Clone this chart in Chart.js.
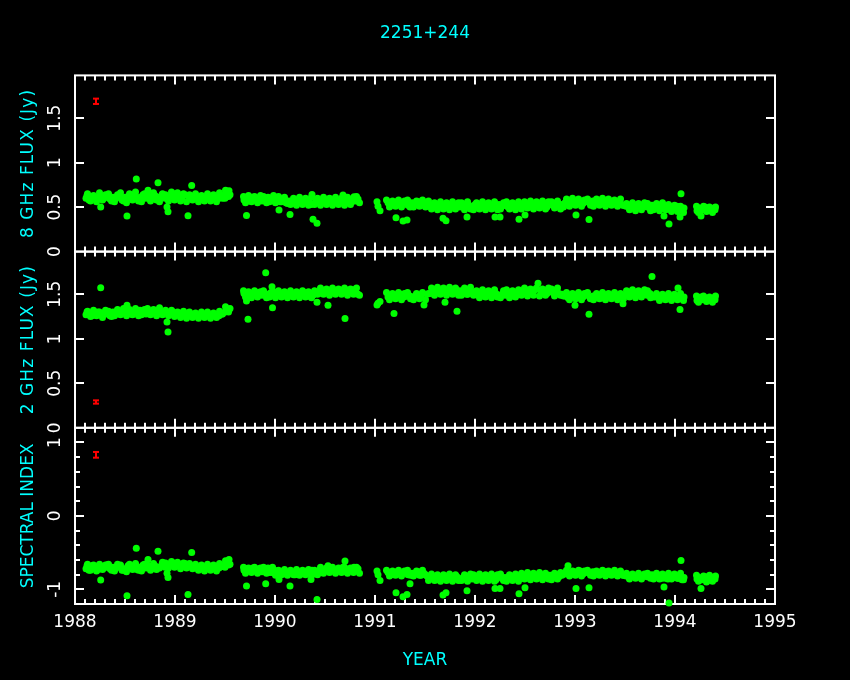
<!DOCTYPE html>
<html>
<head>
<meta charset="utf-8">
<title>2251+244</title>
<script src="https://cdn.jsdelivr.net/npm/chart.js@4.4.1/dist/chart.umd.min.js"></script>
<style>
  html, body { margin: 0; padding: 0; background: #000; }
  #wrap { width: 850px; height: 680px; position: relative; }
</style>
</head>
<body>
<div id="wrap"><canvas id="chart-flux"></canvas></div>
<script>
// observing epochs (decimal year); second half of the list holds the
// interleaved observations from the other sessions
var years = [
    1988.11, 1988.12, 1988.14, 1988.17, 1988.20, 1988.23, 1988.257, 1988.26, 1988.29, 1988.32,
    1988.35, 1988.38, 1988.41, 1988.44, 1988.47, 1988.50, 1988.52, 1988.53, 1988.56, 1988.59,
    1988.613, 1988.62, 1988.65, 1988.68, 1988.71, 1988.73, 1988.74, 1988.77, 1988.80, 1988.83,
    1988.84, 1988.87, 1988.90, 1988.92, 1988.93, 1988.95, 1988.98, 1989.01, 1989.04, 1989.07,
    1989.10, 1989.13, 1989.14, 1989.167, 1989.17, 1989.20, 1989.23, 1989.26, 1989.29, 1989.32,
    1989.35, 1989.38, 1989.41, 1989.44, 1989.47, 1989.50, 1989.52, 1989.54, 1989.55,
    1989.69, 1989.715, 1989.72, 1989.73, 1989.75, 1989.78, 1989.81, 1989.84, 1989.87, 1989.90,
    1989.907, 1989.93, 1989.96, 1989.97, 1989.975, 1989.99, 1990.02, 1990.04, 1990.05, 1990.08,
    1990.11, 1990.14, 1990.15, 1990.17, 1990.20, 1990.23, 1990.26, 1990.29, 1990.32, 1990.35,
    1990.36, 1990.37, 1990.38, 1990.41, 1990.42, 1990.44, 1990.47, 1990.50, 1990.53, 1990.55,
    1990.58, 1990.61, 1990.64, 1990.68, 1990.70, 1990.71, 1990.74, 1990.77, 1990.79, 1990.81,
    1990.83, 1991.02, 1991.03, 1991.05,
    1991.13, 1991.16, 1991.19, 1991.21, 1991.22, 1991.25, 1991.28, 1991.29, 1991.32, 1991.33,
    1991.35, 1991.37, 1991.40, 1991.43, 1991.46, 1991.49, 1991.52, 1991.55, 1991.58, 1991.61,
    1991.64, 1991.67, 1991.68, 1991.70, 1991.71, 1991.73, 1991.76, 1991.79, 1991.82, 1991.85,
    1991.88, 1991.91, 1991.92, 1991.94, 1991.97, 1992.00, 1992.03, 1992.06, 1992.09, 1992.12,
    1992.15, 1992.18, 1992.20, 1992.21, 1992.24, 1992.25, 1992.27, 1992.30, 1992.33, 1992.36,
    1992.39, 1992.42, 1992.44, 1992.45, 1992.48, 1992.50, 1992.51, 1992.54, 1992.57, 1992.60,
    1992.63, 1992.66, 1992.69, 1992.72, 1992.75, 1992.78, 1992.81, 1992.84, 1992.87, 1992.90,
    1992.93, 1992.96, 1992.99, 1993.00, 1993.01, 1993.02, 1993.05, 1993.08, 1993.11, 1993.14,
    1993.15, 1993.18, 1993.21, 1993.24, 1993.27, 1993.30, 1993.33, 1993.36, 1993.39, 1993.42,
    1993.45, 1993.48, 1993.51, 1993.54, 1993.57, 1993.60, 1993.63, 1993.66, 1993.69, 1993.72,
    1993.75, 1993.77, 1993.78, 1993.81, 1993.84, 1993.87, 1993.89, 1993.90, 1993.93, 1993.94,
    1993.96, 1993.99, 1994.02, 1994.03, 1994.05, 1994.06, 1994.07, 1994.09,
    1994.22, 1994.24, 1994.26, 1994.27, 1994.30, 1994.33, 1994.36, 1994.39, 1994.40,
    // interleaved sessions
    1988.125, 1988.155, 1988.185, 1988.215, 1988.245, 1988.275, 1988.305, 1988.335, 1988.365, 1988.395,
    1988.425, 1988.455, 1988.485, 1988.515, 1988.545, 1988.575, 1988.605, 1988.635, 1988.665, 1988.695,
    1988.725, 1988.755, 1988.785, 1988.815, 1988.845, 1988.875, 1988.905, 1988.935, 1988.965, 1988.995,
    1989.025, 1989.055, 1989.085, 1989.115, 1989.145, 1989.175, 1989.205, 1989.235, 1989.265, 1989.295,
    1989.325, 1989.355, 1989.385, 1989.415, 1989.445, 1989.475, 1989.505, 1989.535,
    1989.685, 1989.705, 1989.735, 1989.765, 1989.795, 1989.825, 1989.855, 1989.885, 1989.915, 1989.945,
    1989.985, 1990.005, 1990.035, 1990.065, 1990.095, 1990.125, 1990.155, 1990.185, 1990.215, 1990.245,
    1990.275, 1990.305, 1990.335, 1990.365, 1990.395, 1990.425, 1990.455, 1990.485, 1990.515, 1990.545,
    1990.575, 1990.605, 1990.635, 1990.665, 1990.695, 1990.725, 1990.755, 1990.785, 1990.815, 1990.845,
    1991.115, 1991.145, 1991.175, 1991.205, 1991.235, 1991.265, 1991.295, 1991.325, 1991.355, 1991.385,
    1991.415, 1991.445, 1991.475, 1991.505, 1991.535, 1991.565, 1991.595, 1991.625, 1991.655, 1991.685,
    1991.715, 1991.745, 1991.775, 1991.805, 1991.835, 1991.865, 1991.895, 1991.925, 1991.955, 1991.985,
    1992.015, 1992.045, 1992.075, 1992.105, 1992.135, 1992.165, 1992.195, 1992.225, 1992.255, 1992.285,
    1992.315, 1992.345, 1992.375, 1992.405, 1992.435, 1992.465, 1992.495, 1992.525, 1992.555, 1992.585,
    1992.615, 1992.645, 1992.675, 1992.705, 1992.735, 1992.765, 1992.795, 1992.825, 1992.855, 1992.885,
    1992.915, 1992.945, 1992.975, 1993.005, 1993.035, 1993.065, 1993.095, 1993.125, 1993.155, 1993.185,
    1993.215, 1993.245, 1993.275, 1993.305, 1993.335, 1993.365, 1993.395, 1993.425, 1993.455, 1993.485,
    1993.515, 1993.545, 1993.575, 1993.605, 1993.635, 1993.665, 1993.695, 1993.725, 1993.755, 1993.785,
    1993.815, 1993.845, 1993.875, 1993.905, 1993.935, 1993.965, 1993.995, 1994.025, 1994.055, 1994.085,
    1994.215, 1994.235, 1994.285, 1994.315, 1994.345, 1994.375, 1994.405
];

// 8 GHz flux density (Jy)
var flux8 = [
    0.60, 0.63, 0.58, 0.62, 0.61, 0.59, 0.50, 0.62, 0.60, 0.63,
    0.59, 0.61, 0.60, 0.62, 0.58, 0.61, 0.40, 0.62, 0.60, 0.63,
    0.817, 0.59, 0.61, 0.64, 0.60, 0.69, 0.62, 0.59, 0.63, 0.773,
    0.61, 0.64, 0.60, 0.50, 0.448, 0.62, 0.65, 0.61, 0.63, 0.60,
    0.64, 0.403, 0.62, 0.743, 0.60, 0.63, 0.59, 0.61, 0.58, 0.60,
    0.62, 0.59, 0.61, 0.60, 0.63, 0.60, 0.66, 0.683, 0.64,
    0.58, 0.407, 0.60, 0.57, 0.59, 0.61, 0.58, 0.60, 0.57, 0.59,
    0.58, 0.61, 0.58, 0.59, 0.60, 0.57, 0.58, 0.467, 0.56, 0.59,
    0.55, 0.57, 0.418, 0.56, 0.54, 0.57, 0.55, 0.56, 0.58, 0.55,
    0.53, 0.643, 0.363, 0.56, 0.318, 0.57, 0.55, 0.58, 0.56, 0.57,
    0.55, 0.58, 0.56, 0.635, 0.57, 0.55, 0.58, 0.56, 0.616, 0.57,
    0.59, 0.56, 0.51, 0.46,
    0.55, 0.52, 0.54, 0.38, 0.56, 0.53, 0.344, 0.55, 0.355, 0.52,
    0.50, 0.55, 0.53, 0.56, 0.52, 0.54, 0.53, 0.51, 0.52, 0.50,
    0.53, 0.51, 0.374, 0.52, 0.347, 0.50, 0.53, 0.51, 0.52, 0.50,
    0.53, 0.51, 0.39, 0.52, 0.50, 0.53, 0.51, 0.52, 0.50, 0.53,
    0.51, 0.52, 0.39, 0.50, 0.53, 0.39, 0.51, 0.52, 0.50, 0.53,
    0.51, 0.52, 0.363, 0.53, 0.51, 0.41, 0.52, 0.50, 0.53, 0.52,
    0.51, 0.53, 0.52, 0.50, 0.53, 0.52, 0.54, 0.51, 0.53, 0.55,
    0.55, 0.54, 0.56, 0.53, 0.41, 0.55, 0.57, 0.54, 0.56, 0.36,
    0.55, 0.57, 0.54, 0.56, 0.55, 0.57, 0.54, 0.56, 0.55, 0.53,
    0.55, 0.52, 0.51, 0.49, 0.52, 0.50, 0.51, 0.49, 0.52, 0.50,
    0.51, 0.52, 0.49, 0.50, 0.52, 0.49, 0.40, 0.51, 0.48, 0.31,
    0.50, 0.49, 0.51, 0.48, 0.39, 0.65, 0.47, 0.49,
    0.46, 0.49, 0.40, 0.47, 0.50, 0.48, 0.46, 0.49, 0.47,
    // interleaved sessions
    0.65, 0.57, 0.63, 0.56, 0.66, 0.58, 0.64, 0.65, 0.57, 0.56,
    0.64, 0.66, 0.57, 0.55, 0.65, 0.58, 0.67, 0.57, 0.56, 0.65,
    0.63, 0.57, 0.66, 0.58, 0.56, 0.65, 0.64, 0.57, 0.67, 0.58,
    0.66, 0.57, 0.65, 0.56, 0.64, 0.58, 0.65, 0.56, 0.63, 0.57,
    0.65, 0.57, 0.64, 0.56, 0.66, 0.60, 0.69, 0.62,
    0.62, 0.55, 0.63, 0.56, 0.62, 0.55, 0.63, 0.62, 0.55, 0.56,
    0.63, 0.55, 0.62, 0.56, 0.61, 0.54, 0.53, 0.60, 0.52, 0.61,
    0.53, 0.60, 0.52, 0.61, 0.53, 0.60, 0.52, 0.61, 0.53, 0.60,
    0.52, 0.61, 0.53, 0.60, 0.52, 0.61, 0.53, 0.60, 0.62, 0.55,
    0.58, 0.50, 0.57, 0.51, 0.58, 0.50, 0.57, 0.58, 0.51, 0.50,
    0.57, 0.51, 0.58, 0.50, 0.57, 0.48, 0.55, 0.47, 0.56, 0.48,
    0.55, 0.47, 0.56, 0.48, 0.55, 0.55, 0.47, 0.56, 0.48, 0.47,
    0.55, 0.48, 0.56, 0.47, 0.55, 0.48, 0.56, 0.47, 0.48, 0.55,
    0.56, 0.48, 0.55, 0.47, 0.56, 0.48, 0.56, 0.49, 0.57, 0.48,
    0.56, 0.49, 0.57, 0.48, 0.56, 0.56, 0.49, 0.57, 0.48, 0.50,
    0.59, 0.51, 0.60, 0.52, 0.59, 0.51, 0.58, 0.59, 0.52, 0.51,
    0.59, 0.52, 0.60, 0.51, 0.59, 0.52, 0.58, 0.51, 0.59, 0.52,
    0.54, 0.47, 0.55, 0.46, 0.54, 0.47, 0.55, 0.54, 0.46, 0.47,
    0.54, 0.46, 0.55, 0.47, 0.53, 0.45, 0.52, 0.45, 0.51, 0.44,
    0.51, 0.44, 0.51, 0.45, 0.50, 0.44, 0.50
];

// 2 GHz flux density (Jy)
var flux2 = [
    1.27, 1.30, 1.29, 1.26, 1.28, 1.30, 1.574, 1.27, 1.29, 1.28,
    1.26, 1.30, 1.28, 1.31, 1.29, 1.32, 1.377, 1.30, 1.28, 1.31,
    1.30, 1.29, 1.32, 1.30, 1.28, 1.30, 1.31, 1.29, 1.30, 1.28,
    1.32, 1.29, 1.31, 1.19, 1.076, 1.28, 1.30, 1.27, 1.29, 1.26,
    1.28, 1.27, 1.29, 1.27, 1.25, 1.28, 1.26, 1.27, 1.25, 1.28,
    1.26, 1.27, 1.25, 1.26, 1.28, 1.30, 1.32, 1.33, 1.34,
    1.51, 1.425, 1.52, 1.22, 1.49, 1.51, 1.50, 1.52, 1.49, 1.51,
    1.741, 1.50, 1.52, 1.585, 1.35, 1.49, 1.51, 1.50, 1.49, 1.51,
    1.48, 1.50, 1.49, 1.48, 1.50, 1.51, 1.49, 1.52, 1.50, 1.51,
    1.47, 1.50, 1.49, 1.52, 1.41, 1.53, 1.51, 1.54, 1.377, 1.52,
    1.54, 1.52, 1.55, 1.53, 1.228, 1.52, 1.54, 1.53, 1.55, 1.52,
    1.50, 1.38, 1.40, 1.42,
    1.47, 1.49, 1.284, 1.49, 1.48, 1.50, 1.48, 1.47, 1.48, 1.49,
    1.48, 1.46, 1.48, 1.47, 1.49, 1.38, 1.50, 1.51, 1.53, 1.55,
    1.52, 1.54, 1.52, 1.41, 1.52, 1.53, 1.55, 1.52, 1.31, 1.54,
    1.52, 1.53, 1.50, 1.51, 1.53, 1.50, 1.49, 1.51, 1.48, 1.50,
    1.52, 1.49, 1.49, 1.51, 1.48, 1.49, 1.50, 1.49, 1.51, 1.48,
    1.50, 1.51, 1.50, 1.52, 1.53, 1.51, 1.54, 1.52, 1.53, 1.55,
    1.625, 1.52, 1.54, 1.51, 1.53, 1.52, 1.54, 1.51, 1.50, 1.48,
    1.46, 1.47, 1.49, 1.377, 1.46, 1.46, 1.48, 1.47, 1.49, 1.277,
    1.46, 1.48, 1.47, 1.49, 1.46, 1.48, 1.50, 1.47, 1.49, 1.48,
    1.47, 1.395, 1.50, 1.52, 1.51, 1.49, 1.52, 1.50, 1.51, 1.49,
    1.51, 1.70, 1.48, 1.47, 1.46, 1.48, 1.47, 1.46, 1.47, 1.47,
    1.45, 1.48, 1.46, 1.57, 1.33, 1.47, 1.45, 1.47,
    1.43, 1.45, 1.47, 1.44, 1.46, 1.45, 1.43, 1.46, 1.44,
    // interleaved sessions
    1.31, 1.25, 1.32, 1.26, 1.30, 1.24, 1.32, 1.31, 1.25, 1.26,
    1.33, 1.27, 1.34, 1.26, 1.33, 1.27, 1.34, 1.26, 1.27, 1.33,
    1.34, 1.27, 1.33, 1.26, 1.35, 1.27, 1.32, 1.26, 1.32, 1.25,
    1.30, 1.24, 1.31, 1.23, 1.30, 1.24, 1.29, 1.23, 1.30, 1.24,
    1.30, 1.23, 1.29, 1.24, 1.31, 1.28, 1.36, 1.30,
    1.54, 1.47, 1.53, 1.46, 1.54, 1.47, 1.53, 1.54, 1.46, 1.47,
    1.53, 1.46, 1.54, 1.47, 1.53, 1.46, 1.54, 1.47, 1.53, 1.46,
    1.54, 1.47, 1.53, 1.46, 1.54, 1.50, 1.57, 1.50, 1.56, 1.49,
    1.57, 1.50, 1.56, 1.50, 1.57, 1.49, 1.56, 1.50, 1.57, 1.49,
    1.52, 1.44, 1.51, 1.45, 1.52, 1.44, 1.51, 1.52, 1.45, 1.44,
    1.51, 1.45, 1.52, 1.44, 1.51, 1.57, 1.49, 1.58, 1.50, 1.57,
    1.49, 1.58, 1.50, 1.57, 1.49, 1.49, 1.57, 1.50, 1.58, 1.49,
    1.54, 1.46, 1.55, 1.47, 1.54, 1.46, 1.55, 1.47, 1.46, 1.54,
    1.55, 1.46, 1.54, 1.47, 1.55, 1.49, 1.57, 1.48, 1.56, 1.49,
    1.57, 1.48, 1.56, 1.49, 1.57, 1.56, 1.48, 1.57, 1.49, 1.48,
    1.52, 1.44, 1.51, 1.45, 1.52, 1.44, 1.51, 1.52, 1.45, 1.44,
    1.51, 1.45, 1.52, 1.44, 1.51, 1.45, 1.52, 1.44, 1.51, 1.45,
    1.54, 1.47, 1.55, 1.46, 1.54, 1.47, 1.55, 1.54, 1.46, 1.47,
    1.51, 1.43, 1.50, 1.44, 1.51, 1.43, 1.50, 1.44, 1.51, 1.43,
    1.48, 1.41, 1.48, 1.42, 1.47, 1.41, 1.48
];

// spectral index between 2 and 8 GHz
var specIndex = [
    -0.72, -0.68, -0.74, -0.68, -0.70, -0.73, -0.874, -0.69, -0.71, -0.67,
    -0.72, -0.70, -0.71, -0.69, -0.74, -0.72, -1.086, -0.68, -0.71, -0.69,
    -0.44, -0.73, -0.70, -0.67, -0.71, -0.593, -0.69, -0.72, -0.68, -0.48,
    -0.70, -0.66, -0.70, -0.78, -0.84, -0.67, -0.64, -0.68, -0.66, -0.69,
    -0.65, -1.07, -0.67, -0.50, -0.70, -0.68, -0.72, -0.70, -0.73, -0.71,
    -0.69, -0.72, -0.70, -0.71, -0.68, -0.70, -0.64, -0.593, -0.66,
    -0.74, -0.955, -0.72, -0.75, -0.73, -0.71, -0.75, -0.72, -0.76, -0.73,
    -0.924, -0.71, -0.75, -0.77, -0.70, -0.76, -0.75, -0.865, -0.78, -0.76,
    -0.79, -0.77, -0.955, -0.78, -0.80, -0.76, -0.79, -0.77, -0.75, -0.78,
    -0.865, -0.74, -0.79, -0.76, -1.14, -0.75, -0.77, -0.74, -0.68, -0.75,
    -0.73, -0.76, -0.72, -0.70, -0.616, -0.76, -0.73, -0.75, -0.70, -0.74,
    -0.72, -0.75, -0.80, -0.88,
    -0.77, -0.80, -0.78, -1.046, -0.76, -0.79, -1.10, -0.77, -1.07, -0.80,
    -0.924, -0.78, -0.79, -0.76, -0.81, -0.78, -0.82, -0.83, -0.85, -0.87,
    -0.83, -0.86, -1.078, -0.84, -1.046, -0.86, -0.84, -0.85, -0.83, -0.87,
    -0.84, -0.86, -1.02, -0.83, -0.86, -0.83, -0.85, -0.84, -0.86, -0.82,
    -0.85, -0.84, -0.99, -0.87, -0.83, -0.99, -0.85, -0.84, -0.86, -0.83,
    -0.85, -0.84, -1.06, -0.82, -0.84, -0.98, -0.83, -0.85, -0.81, -0.83,
    -0.84, -0.81, -0.82, -0.84, -0.81, -0.83, -0.80, -0.83, -0.81, -0.79,
    -0.68, -0.78, -0.76, -0.80, -0.99, -0.77, -0.75, -0.79, -0.77, -0.98,
    -0.78, -0.76, -0.79, -0.77, -0.78, -0.76, -0.79, -0.77, -0.78, -0.80,
    -0.78, -0.81, -0.82, -0.84, -0.81, -0.83, -0.82, -0.84, -0.81, -0.83,
    -0.82, -0.80, -0.84, -0.83, -0.81, -0.85, -0.97, -0.82, -0.86, -1.187,
    -0.83, -0.84, -0.82, -0.85, -0.85, -0.607, -0.87, -0.84,
    -0.86, -0.84, -0.99, -0.87, -0.83, -0.85, -0.88, -0.84, -0.86,
    // interleaved sessions
    -0.66, -0.74, -0.67, -0.75, -0.66, -0.73, -0.67, -0.66, -0.74, -0.75,
    -0.66, -0.67, -0.74, -0.76, -0.66, -0.73, -0.65, -0.74, -0.75, -0.66,
    -0.67, -0.74, -0.65, -0.73, -0.71, -0.63, -0.64, -0.71, -0.62, -0.70,
    -0.63, -0.72, -0.64, -0.71, -0.65, -0.72, -0.66, -0.74, -0.67, -0.75,
    -0.66, -0.74, -0.67, -0.75, -0.65, -0.69, -0.61, -0.67,
    -0.70, -0.78, -0.71, -0.77, -0.70, -0.78, -0.71, -0.70, -0.78, -0.77,
    -0.73, -0.81, -0.74, -0.80, -0.73, -0.81, -0.74, -0.80, -0.73, -0.81,
    -0.74, -0.80, -0.73, -0.81, -0.74, -0.80, -0.70, -0.78, -0.71, -0.77,
    -0.70, -0.78, -0.71, -0.77, -0.70, -0.78, -0.71, -0.77, -0.70, -0.78,
    -0.74, -0.82, -0.75, -0.81, -0.74, -0.82, -0.75, -0.74, -0.81, -0.82,
    -0.75, -0.81, -0.74, -0.80, -0.88, -0.79, -0.88, -0.80, -0.89, -0.80,
    -0.88, -0.79, -0.89, -0.80, -0.88, -0.88, -0.80, -0.89, -0.79, -0.80,
    -0.88, -0.79, -0.89, -0.80, -0.88, -0.79, -0.89, -0.80, -0.79, -0.88,
    -0.89, -0.80, -0.88, -0.79, -0.89, -0.78, -0.86, -0.77, -0.87, -0.78,
    -0.86, -0.77, -0.87, -0.78, -0.86, -0.87, -0.78, -0.86, -0.77, -0.78,
    -0.74, -0.82, -0.75, -0.81, -0.74, -0.82, -0.75, -0.74, -0.81, -0.82,
    -0.75, -0.81, -0.74, -0.82, -0.75, -0.81, -0.74, -0.82, -0.75, -0.81,
    -0.78, -0.86, -0.79, -0.85, -0.78, -0.86, -0.79, -0.78, -0.85, -0.86,
    -0.78, -0.86, -0.79, -0.85, -0.78, -0.86, -0.79, -0.85, -0.78, -0.87,
    -0.81, -0.89, -0.82, -0.90, -0.81, -0.89, -0.82
];

// typical error bar drawn in the corner of each panel (8 GHz, 2 GHz, index)
var errYear = 1988.21;
var errCentre = [1.689, 0.29, 0.832];
var errHalf = [0.03, 0.0185, 0.039];

// tick labels
var yearTicks = [1988, 1989, 1990, 1991, 1992, 1993, 1994, 1995];
var fluxTicks = [0, 0.5, 1, 1.5];
var fluxLabels = ['0', '0.5', '1', '1.5'];
var indexTicks = [-1, 0, 1];
var indexLabels = ['-1', '0', '1'];

var CYAN = '#00ffff';
var GREEN = '#00ff00';
var RED = '#ff0000';
var FONT = '17px "DejaVu Sans"';

var panels = [
    {axis: 'y8', title: '8 GHz FLUX (Jy)', values: flux8, ticks: fluxTicks, labels: fluxLabels, minor: 0, spacing: '1.1px'},
    {axis: 'y2', title: '2 GHz FLUX (Jy)', values: flux2, ticks: fluxTicks, labels: fluxLabels, minor: 0, spacing: '1.1px'},
    {axis: 'ySI', title: 'SPECTRAL INDEX', values: specIndex, ticks: indexTicks, labels: indexLabels, minor: 0.2, spacing: '0px'}
];

function seg(ctx, x1, y1, x2, y2) {
    ctx.beginPath();
    ctx.moveTo(x1, y1);
    ctx.lineTo(x2, y2);
    ctx.stroke();
}

// PGPLOT style boxes: inward ticks on all four sides, rotated y labels
var framePlugin = {
    id: 'frame',
    beforeDatasetsDraw: function(chart) {
        var ctx = chart.ctx;
        var xs = chart.scales.x;
        var left = xs.left, right = xs.right;
        ctx.save();
        ctx.strokeStyle = '#ffffff';
        ctx.fillStyle = '#ffffff';
        ctx.lineWidth = 2;
        ctx.font = FONT;

        panels.forEach(function(p) {
            var ys = chart.scales[p.axis];
            var top = ys.top, bottom = ys.bottom;
            ctx.strokeRect(left, top, right - left, bottom - top);

            // year ticks: major each year, minor each 0.1 yr
            var nx = Math.round((xs.max - xs.min) * 10);
            for (var k = 1; k < nx; k++) {
                var px = Math.round(xs.getPixelForValue(xs.min + k / 10));
                var len = k % 10 === 0 ? 9 : 5;
                seg(ctx, px, top, px, top + len);
                seg(ctx, px, bottom, px, bottom - len);
            }

            // value ticks
            var vals = [];
            if (p.minor) {
                for (var m = Math.ceil(ys.min / p.minor); m * p.minor < ys.max; m++) vals.push(m * p.minor);
            } else {
                vals = p.ticks.slice();
            }
            vals.forEach(function(v) {
                if (v <= ys.min + 1e-6 || v >= ys.max - 1e-6) return;
                var major = p.ticks.some(function(t) { return Math.abs(t - v) < 1e-6; });
                var len = major ? 9 : 5;
                var py = Math.round(ys.getPixelForValue(v));
                seg(ctx, left, py, left + len, py);
                seg(ctx, right, py, right - len, py);
            });

            // rotated tick labels
            ctx.fillStyle = '#ffffff';
            ctx.textAlign = 'center';
            ctx.textBaseline = 'middle';
            p.ticks.forEach(function(v, j) {
                var py = ys.getPixelForValue(v);
                ctx.save();
                ctx.translate(56, py);
                ctx.rotate(-Math.PI / 2);
                ctx.fillText(p.labels[j], 0, 0);
                ctx.restore();
            });

            // rotated axis title
            ctx.fillStyle = CYAN;
            ctx.save();
            ctx.letterSpacing = p.spacing;
            ctx.translate(29, (top + bottom) / 2);
            ctx.rotate(-Math.PI / 2);
            ctx.fillText(p.title, 0, 0);
            ctx.restore();
        });

        // year labels under the bottom panel
        var bottomScale = chart.scales[panels[panels.length - 1].axis];
        ctx.fillStyle = '#ffffff';
        ctx.textAlign = 'center';
        ctx.textBaseline = 'alphabetic';
        yearTicks.forEach(function(y) {
            ctx.fillText(String(y), xs.getPixelForValue(y), bottomScale.bottom + 23);
        });
        ctx.fillStyle = CYAN;
        ctx.fillText('YEAR', (left + right) / 2, bottomScale.bottom + 61);
        ctx.restore();
    }
};

var datasets = [];
panels.forEach(function(p, i) {
    datasets.push({
        label: p.title,
        yAxisID: p.axis,
        data: years.map(function(x, j) { return {x: x, y: p.values[j]}; }),
        pointRadius: 3.5,
        pointBorderWidth: 0,
        pointBackgroundColor: GREEN,
        pointHoverRadius: 3.5,
        clip: false
    });
    datasets.push({
        label: p.title + ' error',
        yAxisID: p.axis,
        data: [{x: errYear, y: errCentre[i] - errHalf[i]}, {x: errYear, y: errCentre[i] + errHalf[i]}],
        showLine: true,
        borderColor: RED,
        borderWidth: 2,
        pointStyle: 'line',
        pointRadius: 3,
        pointBorderColor: RED,
        pointBorderWidth: 2,
        clip: false
    });
});

var ctx = document.getElementById('chart-flux').getContext('2d');
var chart = new Chart(ctx, {
    type: 'scatter',
    data: { datasets: datasets },
    options: {
        responsive: true,
        maintainAspectRatio: false,
        animation: false,
        events: [],
        layout: { padding: { left: 75, right: 75, top: 0, bottom: 76 } },
        plugins: {
            legend: { display: false },
            tooltip: { enabled: false },
            title: {
                display: true,
                text: '2251+244',
                color: CYAN,
                font: { family: 'DejaVu Sans', size: 17, weight: 'normal' },
                padding: { top: 23, bottom: 32 }
            }
        },
        scales: {
            x: { type: 'linear', position: 'bottom', min: 1988, max: 1995, display: false },
            y8: { type: 'linear', position: 'left', min: 0, max: 1.98, stack: 'panels', weight: 3, display: false },
            y2: { type: 'linear', position: 'left', min: 0, max: 1.98, stack: 'panels', weight: 2, display: false },
            ySI: { type: 'linear', position: 'left', min: -1.2, max: 1.2, stack: 'panels', weight: 1, display: false }
        }
    },
    plugins: [framePlugin]
});
</script>
</body>
</html>
